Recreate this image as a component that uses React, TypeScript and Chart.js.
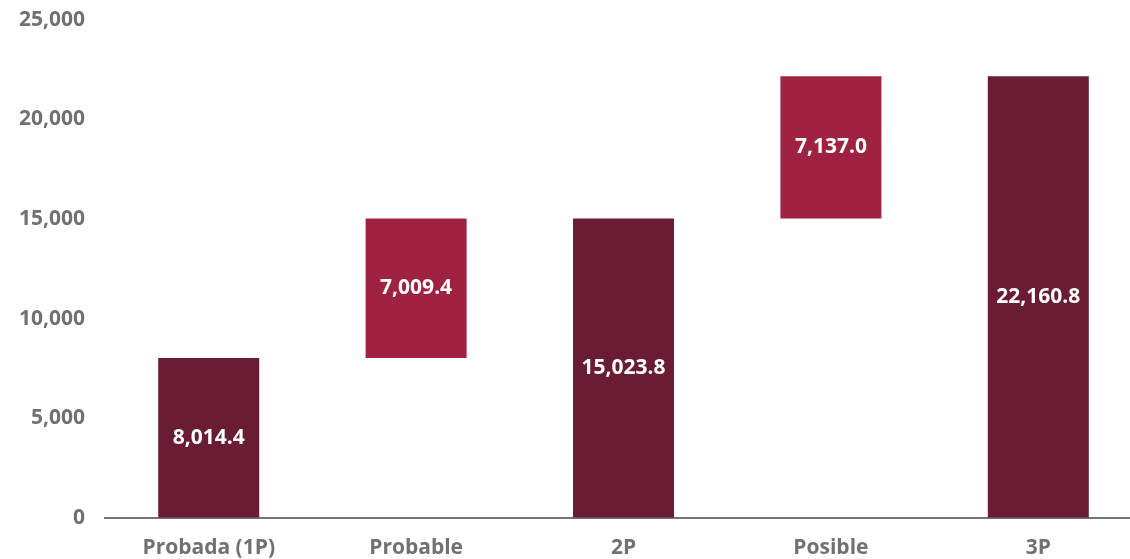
import React, { useEffect, useRef } from "react";
import { Chart, registerables } from "chart.js";

Chart.register(...registerables);

const categories = ["Probada (1P)", "Probable", "2P", "Posible", "3P"];
const barStart = [0, 8014.4, 0, 15023.8, 0];
const barEnd = [8014.4, 15023.8, 15023.8, 22160.8, 22160.8];
const valueLabels = ["8,014.4", "7,009.4", "15,023.8", "7,137.0", "22,160.8"];
const barColors = ["#6A1C32", "#9F2241", "#6A1C32", "#9F2241", "#6A1C32"];
const yTicks = [0, 5000, 10000, 15000, 20000, 25000];

const FONT = "'Open Sans', 'DejaVu Sans', sans-serif";
const GRAY = "#6F7271";

const labelPlugin = {
  id: "valueLabels",
  afterDatasetsDraw(chart: any) {
    const ctx = chart.ctx;
    const meta = chart.getDatasetMeta(0);
    ctx.save();
    ctx.fillStyle = "#FFFFFF";
    ctx.font = `700 21px ${FONT}`;
    ctx.textAlign = "center";
    ctx.textBaseline = "middle";
    meta.data.forEach((el: any, i: number) => {
      const { x, y, base } = el.getProps(["x", "y", "base"], true);
      ctx.fillText(valueLabels[i], x, (y + base) / 2);
    });
    ctx.restore();
  },
};

export default function App() {
  const ref = useRef<HTMLCanvasElement | null>(null);
  useEffect(() => {
    document.body.style.margin = "0";
    const canvas = ref.current!;
    const chart = new Chart(canvas, {
      type: "bar",
      data: {
        labels: categories,
        datasets: [
          {
            data: categories.map((_, i) => [barStart[i], barEnd[i]]) as any,
            backgroundColor: barColors,
            borderWidth: 0,
            barPercentage: 0.487,
            categoryPercentage: 1,
          },
        ],
      },
      options: {
        responsive: false,
        animation: false,
        layout: { padding: { left: 7, top: -10, right: 0, bottom: -12 } },
        plugins: { legend: { display: false }, tooltip: { enabled: false } },
        scales: {
          x: {
            grid: { display: false },
            border: { display: true, color: "#757575", width: 2 },
            ticks: {
              color: GRAY,
              font: { family: FONT, size: 21, weight: "700" as any },
              padding: 10,
              maxRotation: 0,
            },
          },
          y: {
            min: 0,
            max: 25000,
            grid: { display: false },
            border: { display: false },
            afterBuildTicks(scale: any) {
              scale.ticks = yTicks.map((v) => ({ value: v }));
            },
            ticks: {
              color: GRAY,
              font: { family: FONT, size: 21, weight: "700" as any },
              padding: 12,
              callback: (v: any) => Number(v).toLocaleString("en-US"),
            },
          },
        },
      },
      plugins: [labelPlugin],
    });
    return () => chart.destroy();
  }, []);
  return (
    <div style={{ width: 1130, height: 559, overflow: "hidden", position: "relative" }}>
      <canvas
        ref={ref}
        width={1142}
        height={564}
        style={{ display: "block", position: "absolute", left: 0, top: -5 }}
      />
    </div>
  );
}
